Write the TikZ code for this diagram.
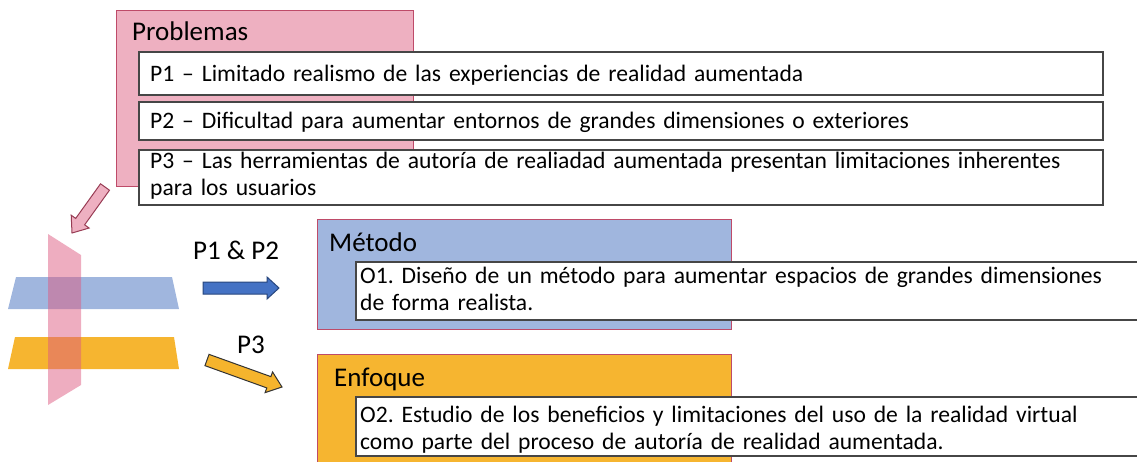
\documentclass[tikz,border=0pt]{standalone}
\usepackage{fontspec}
\setmainfont{Carlito}
\usetikzlibrary{calc}
\frenchspacing
\definecolor{pinkfill}{RGB}{238,176,193}
\definecolor{pinkedge}{RGB}{190,75,105}
\definecolor{bluefill}{RGB}{160,182,222}
\definecolor{orangefill}{RGB}{246,181,48}
\definecolor{planepink}{RGB}{221,91,129}
\definecolor{planeblue}{RGB}{160,182,222}
\definecolor{arrowblue}{RGB}{68,114,196}
\definecolor{arrowblueedge}{RGB}{40,70,125}
\definecolor{arroworange}{RGB}{245,180,45}
\definecolor{boxedge}{RGB}{70,70,70}
\newcommand\blockarr[6]{%
  \coordinate (#1-h) at ($(#2)!#5!(#1)$);
  \draw[#6] ($(#1)!#3!90:(#2)$) -- ($(#1-h)!#3!-90:(#1)$) -- ($(#1-h)!#4!-90:(#1)$) -- (#2)
    -- ($(#1-h)!#4!90:(#1)$) -- ($(#1-h)!#3!90:(#1)$) -- ($(#1)!#3!-90:(#2)$) -- cycle;}
\begin{document}
\begin{tikzpicture}[x=1pt,y=-1pt,
  groupbox/.style={draw=pinkedge, line width=1pt, anchor=north west, inner sep=0pt},
  itembox/.style={draw=boxedge, line width=1.6pt, fill=white, anchor=north west, inner sep=0pt},
  title/.style={anchor=base west, inner sep=0pt, font=\fontsize{27}{32}\selectfont},
  txt/.style={anchor=base west, inner sep=0pt, text width=1000pt, align=left, font=\fontsize{23.6}{27}\selectfont},
  lbl/.style={inner sep=0pt, font=\fontsize{27}{32}\selectfont}]
\useasboundingbox (0,0) rectangle (1137,461);
% Problemas group
\node[groupbox, fill=pinkfill, minimum width=297pt, minimum height=176pt] (prob) at (116,10) {};
\node[title] (probt) at (132,40) {Problemas};
\node[itembox, minimum width=964pt, minimum height=43pt] (p1) at (138,51) {};
\node[txt] (p1t) at (150,81) {P1 – Limitado realismo de las experiencias de realidad aumentada};
\node[itembox, minimum width=964pt, minimum height=38pt] (p2) at (138,101) {};
\node[txt] (p2t) at (150,128) {P2 – Dificultad para aumentar entornos de grandes dimensiones o exteriores};
\node[itembox, minimum width=964pt, minimum height=55pt] (p3) at (138,149) {};
\node[txt] (p3t) at (150,168) {P3 – Las herramientas de autoría de realiadad aumentada presentan limitaciones inherentes\\para los usuarios};
% Metodo group
\node[groupbox, fill=bluefill, minimum width=414pt, minimum height=110pt] (met) at (317,219) {};
\node[title] (mett) at (329,251) {Método};
\node[itembox, minimum width=800pt, minimum height=58pt] (o1) at (355,261) {};
\node[txt] (o1t) at (360,283) {O1. Diseño de un método para aumentar espacios de grandes dimensiones\\de forma realista.};
% Enfoque group
\node[groupbox, fill=orangefill, minimum width=414pt, minimum height=130pt] (enf) at (317,354) {};
\node[title] (enft) at (334,386) {Enfoque};
\node[itembox, minimum width=800pt, minimum height=59pt] (o2) at (355,396) {};
\node[txt] (o2t) at (360,422) {O2. Estudio de los beneficios y limitaciones del uso de la realidad virtual\\como parte del proceso de autoría de realidad aumentada.};
% planes
\fill[planeblue] (16,277) -- (172,277) -- (179,309) -- (8,309) -- cycle;
\fill[orangefill] (15,337) -- (174,337) -- (179,369) -- (8,369) -- cycle;
\fill[planepink, opacity=0.5] (48,234) -- (81,255) -- (81,385) -- (48,405) -- cycle;
% arrows
\coordinate (pa) at (105,187);
\coordinate (pb) at (72,233);
\blockarr{pa}{pb}{5.5pt}{11pt}{14pt}{draw=pinkedge!80!black, line width=1pt, fill=pinkfill}
\coordinate (ba) at (203,288);
\coordinate (bb) at (279,288);
\blockarr{ba}{bb}{6pt}{11pt}{12pt}{draw=arrowblueedge, line width=1pt, fill=arrowblue}
\node[lbl] (l12) at (236,250) {P1 \& P2};
\coordinate (oa) at (207,360);
\coordinate (ob) at (282,387);
\blockarr{oa}{ob}{6pt}{11pt}{14pt}{draw=black!80, line width=1pt, fill=arroworange}
\node[lbl] (l3) at (251,345) {P3};
\end{tikzpicture}
\end{document}
